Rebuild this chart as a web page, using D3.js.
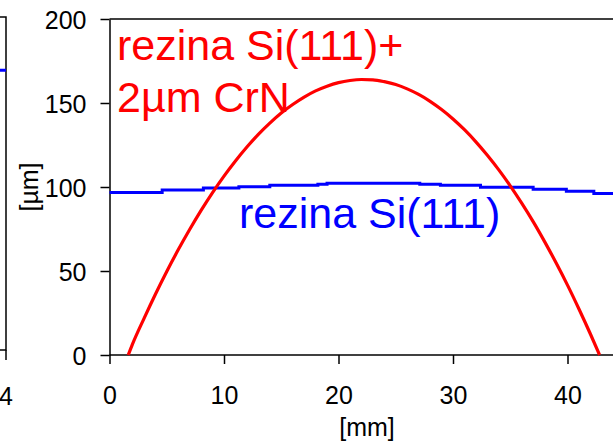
<!DOCTYPE html>
<html>
<head>
<meta charset="utf-8">
<script src="https://d3js.org/d3.v7.min.js"></script>
<style>
  body { margin: 0; background: #fff; }
  svg { display: block; font-family: "Liberation Sans", Arial, sans-serif; }
  .axis path, .axis line { stroke: #000; stroke-width: 1.5; }
  .axis text { fill: #000; font-size: 25px; }
</style>
</head>
<body>
<script>
// tick labels
var xTicks = [0, 10, 20, 30, 40];
var yTicks = [0, 50, 100, 150, 200];

// rezina Si(111)+2um CrN  (red)
var redX = [1.64, 2, 3, 4, 5, 6, 7, 8, 9, 10, 11, 12, 13, 14, 15, 16, 17, 18, 19, 20, 21, 22,
            23, 24, 25, 26, 27, 28, 29, 30, 31, 32, 33, 34, 35, 36, 37, 38, 39, 40, 41, 42, 42.8];
var redY = [0, 6.3, 21.5, 36, 49.7, 62.6, 74.7, 86.1, 96.7, 106.5, 115.5, 123.8, 131.3, 138, 144, 149.1,
            153.5, 157.2, 160, 162.1, 163.4, 164, 163.8, 162.7, 161, 158.4, 155.1, 151, 146.1, 140.5,
            134.1, 126.9, 118.9, 110.2, 100.7, 90.4, 79.4, 67.5, 54.9, 41.6, 27.4, 12.5, 0];

// rezina Si(111)  (blue), stepped profile
var blueX = [0, 4.6, 8.2, 11.3, 14, 18.2, 19, 27.1, 28.9, 32.4, 37, 39.9, 42.3, 46];
var blueY = [96.8, 98.2, 99.4, 100.2, 101, 101.6, 102.2, 101.6, 101, 99.8, 98.6, 97.4, 96.2, 96.2];

// neighbouring panel, only its right edge shows
var leftX = [3.5, 4];
var leftY = [168, 168];

var W = 613, H = 441;
var svg = d3.select("body").append("svg").attr("width", W).attr("height", H);

var x = d3.scaleLinear().domain([0, 50]).range([109.5, 109.5 + 572.5]);
var y = d3.scaleLinear().domain([0, 200]).range([355, 19]);

// left panel scraps
var lx = d3.scaleLinear().domain([3, 4]).range([-110, 6]);
var ly = d3.scaleLinear().domain([0, 200]).range([350, 17]);
svg.append("path")
  .attr("d", "M0," + ly(200) + "H" + lx(4) + "V" + ly(0) + "H0")
  .attr("fill", "none").attr("stroke", "#000").attr("stroke-width", 1.5);
svg.append("line")
  .attr("x1", lx(4)).attr("x2", lx(4)).attr("y1", ly(0)).attr("y2", ly(0) + 10)
  .attr("stroke", "#000").attr("stroke-width", 1.5);
svg.append("text").attr("x", lx(4)).attr("y", 405).attr("text-anchor", "middle")
  .style("font-size", "25px").text("4");
svg.append("path")
  .datum(d3.zip(leftX, leftY))
  .attr("fill", "none").attr("stroke", "#0000ff").attr("stroke-width", 3)
  .attr("d", d3.line().x(function(d) { return lx(d[0]); }).y(function(d) { return ly(d[1]); }));

// top frame
svg.append("line")
  .attr("x1", x(0)).attr("x2", W).attr("y1", y(200)).attr("y2", y(200))
  .attr("stroke", "#000").attr("stroke-width", 1.5);

// axes
svg.append("g").attr("class", "axis")
  .attr("transform", "translate(" + x(0) + ",0)")
  .call(d3.axisLeft(y).tickValues(yTicks).tickSize(9).tickSizeOuter(0).tickPadding(14))
  .selectAll("text").attr("dy", "0.36em");

svg.append("g").attr("class", "axis")
  .attr("transform", "translate(0," + y(0) + ")")
  .call(d3.axisBottom(x).tickValues(xTicks).tickSize(9).tickSizeOuter(0).tickPadding(22))
  .select(".domain").attr("d", "M" + x(0) + ",0H" + W);

// lines
svg.append("path")
  .datum(d3.zip(blueX, blueY))
  .attr("fill", "none").attr("stroke", "#0000ff").attr("stroke-width", 3)
  .attr("d", d3.line().x(function(d) { return x(d[0]); }).y(function(d) { return y(d[1]); })
    .curve(d3.curveStepAfter));

svg.append("path")
  .datum(d3.zip(redX, redY))
  .attr("fill", "none").attr("stroke", "#ff0000").attr("stroke-width", 3.2)
  .attr("d", d3.line().x(function(d) { return x(d[0]); }).y(function(d) { return y(d[1]); })
    .curve(d3.curveMonotoneX));

// labels
svg.append("text").attr("x", 367).attr("y", 436).attr("text-anchor", "middle")
  .style("font-size", "25px").text("[mm]");
svg.append("text")
  .attr("transform", "translate(38,187) rotate(-90)")
  .attr("text-anchor", "middle").style("font-size", "25px").text("[\u00b5m]");

var red = svg.append("text").attr("fill", "#ff0000").style("font-size", "43px");
red.append("tspan").attr("x", 117).attr("y", 60).text("rezina Si(111)+");
red.append("tspan").attr("x", 117).attr("y", 112).text("2\u00b5m CrN");

svg.append("text").attr("fill", "#0000ff").style("font-size", "43px")
  .attr("x", 239).attr("y", 228).text("rezina Si(111)");
</script>
</body>
</html>
